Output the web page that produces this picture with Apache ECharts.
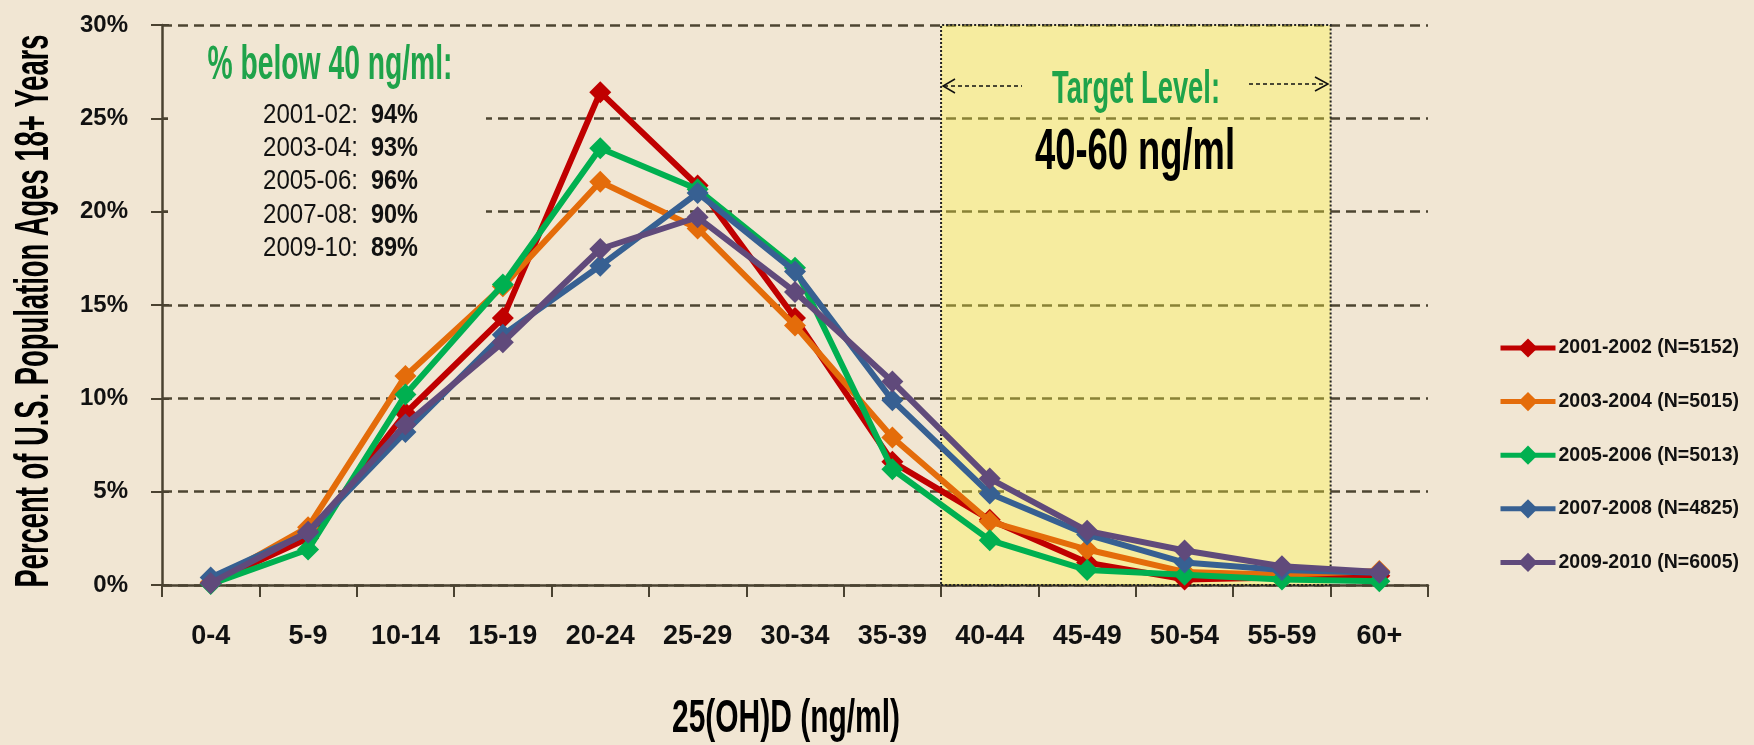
<!DOCTYPE html>
<html>
<head>
<meta charset="utf-8">
<title>25(OH)D distribution</title>
<script src="https://cdn.jsdelivr.net/npm/echarts@6/dist/echarts.min.js"></script>
<style>
  html, body { margin: 0; padding: 0; background: #f1e6d3; }
  #chart { width: 1754px; height: 745px; }
</style>
</head>
<body>
<div id="chart"></div>
<script>
// 横轴分组 (ng/ml)
const categories = ['0-4', '5-9', '10-14', '15-19', '20-24', '25-29', '30-34', '35-39', '40-44', '45-49', '50-54', '55-59', '60+'];

// 各调查周期的百分比
const s2001 = [0.1, 2.5, 9.2, 14.3, 26.4, 21.4, 14.3, 6.6, 3.5, 1.2, 0.3, 0.4, 0.5];
const s2003 = [0.15, 3.1, 11.2, 16.0, 21.6, 19.1, 13.9, 7.9, 3.4, 1.9, 0.7, 0.55, 0.75];
const s2005 = [0.05, 1.9, 10.2, 16.1, 23.4, 21.2, 17.0, 6.2, 2.4, 0.8, 0.55, 0.3, 0.2];
const s2007 = [0.4, 2.8, 8.2, 13.4, 17.1, 21.0, 16.8, 9.9, 4.9, 2.7, 1.2, 0.8, 0.65];
const s2009 = [0.1, 2.85, 8.6, 13.0, 18.0, 19.7, 15.7, 10.9, 5.7, 2.9, 1.85, 1.0, 0.7];

const seriesNames = ['2001-2002 (N=5152)', '2003-2004 (N=5015)', '2005-2006 (N=5013)', '2007-2008 (N=4825)', '2009-2010 (N=6005)'];
const seriesColors = ['#c00000', '#e46c0a', '#00b050', '#376092', '#604a7b'];

// 纵轴刻度
const yMin = 0, yMax = 30, yStep = 5;

// 左上角说明
const periods = ['2001-02:', '2003-04:', '2005-06:', '2007-08:', '2009-10:'];
const belowPct = ['94%', '93%', '96%', '90%', '89%'];

// 目标区间
const targetFrom = '40-44', targetTo = '55-59';

const NARROW = '"Liberation Sans Narrow", "Liberation Sans", sans-serif';
const GREEN = '#1fa34a';
const AXIS = '#4a4230';

// 用canvas量文字宽度, 算横向压缩比例
const ctx2d = document.createElement('canvas').getContext('2d');
function fit(text, font, width) {
  ctx2d.font = font;
  return width / ctx2d.measureText(text).width;
}

function label(text, x, y, size, width, fill, rotation, align, weight) {
  const font = (weight || 'bold') + ' ' + size + 'px ' + NARROW;
  return {
    type: 'text', x: x, y: y, z: 20,
    rotation: rotation || 0,
    scaleX: fit(text, font, width),
    style: { text: text, font: font, fill: fill, align: align || 'center', verticalAlign: 'middle' }
  };
}

const graphics = [
  // 遮住说明文字后面的网格线
  { type: 'rect', z: 1, shape: { x: 168, y: 36, width: 318, height: 228 }, style: { fill: '#f1e6d3' } },
  label('% below 40 ng/ml:', 330, 66, 48, 245, GREEN),
  label('Target Level:', 1136, 90, 46, 168, GREEN),
  label('40-60 ng/ml', 1135, 153, 58, 200, '#000'),
  label('Percent of U.S. Population Ages 18+ Years', 35, 311, 48, 553, '#000', Math.PI / 2),
  label('25(OH)D (ng/ml)', 786, 719, 46, 228, '#000'),
  // 箭头
  { type: 'polyline', z: 20, shape: { points: [[944, 86], [1022, 86]] }, style: { stroke: '#111', lineWidth: 1.5, lineDash: [4, 3] } },
  { type: 'polyline', z: 20, shape: { points: [[955, 79], [943, 86], [955, 93]] }, style: { stroke: '#111', lineWidth: 1.5, fill: null } },
  { type: 'polyline', z: 20, shape: { points: [[1249, 84], [1327, 84]] }, style: { stroke: '#111', lineWidth: 1.5, lineDash: [4, 3] } },
  { type: 'polyline', z: 20, shape: { points: [[1315, 77], [1328, 84], [1315, 91]] }, style: { stroke: '#111', lineWidth: 1.5, fill: null } }
];

periods.forEach(function (p, i) {
  const y = 115 + i * 33.3;
  graphics.push(label(p, 358, y, 28, 95, '#111', 0, 'right', 'normal'));
  graphics.push(label(belowPct[i], 371, y, 28, 47, '#111', 0, 'left', 'bold'));
});

const dataSets = [s2001, s2003, s2005, s2007, s2009];
const lineSeries = dataSets.map(function (d, i) {
  return {
    name: seriesNames[i],
    type: 'line',
    data: d,
    symbol: 'diamond',
    symbolSize: 22,
    color: seriesColors[i],
    lineStyle: { width: 6, color: seriesColors[i] },
    itemStyle: { color: seriesColors[i] },
    z: 2 + i * 0.1
  };
});

// 黄色目标区 (半透明盖在线上面)
lineSeries.push({
  name: 'target',
  type: 'line',
  xAxisIndex: 1,
  data: [],
  z: 10,
  silent: true,
  markArea: {
    silent: true,
    itemStyle: { color: 'rgba(255, 250, 60, 0.34)', borderColor: '#222', borderWidth: 2, borderType: 'dotted' },
    data: [[
      { xAxis: categories.indexOf(targetFrom), yAxis: yMin },
      { xAxis: categories.indexOf(targetTo) + 1, yAxis: yMax }
    ]]
  }
});

const chart = echarts.init(document.getElementById('chart'));
chart.setOption({
  backgroundColor: '#f1e6d3',
  animation: false,
  grid: { left: 162, right: 326, top: 25, bottom: 160 },
  legend: {
    data: seriesNames,
    orient: 'vertical',
    left: 1493,
    top: 333,
    itemWidth: 55,
    itemHeight: 24,
    itemGap: 33.6,
    lineStyle: { width: 5 },
    textStyle: { fontFamily: NARROW, fontWeight: 'bold', fontSize: 19.5, color: '#111', padding: [0, 0, 0, -2] }
  },
  xAxis: [{
    type: 'category',
    data: categories,
    boundaryGap: true,
    axisLine: { lineStyle: { color: AXIS, width: 2.5 } },
    axisTick: { show: true, length: 12, lineStyle: { color: AXIS, width: 2 } },
    axisLabel: { interval: 0, margin: 38, color: '#111', fontFamily: NARROW, fontWeight: 'bold', fontSize: 27 },
    splitLine: { show: false }
  }, {
    type: 'value', min: 0, max: categories.length, show: false
  }],
  yAxis: [{
    type: 'value',
    min: yMin, max: yMax, interval: yStep,
    axisLine: { show: true, lineStyle: { color: AXIS, width: 2.5 } },
    axisTick: { show: true, length: 11, lineStyle: { color: AXIS, width: 2 } },
    axisLabel: { margin: 34, color: '#111', fontFamily: NARROW, fontWeight: 'bold', fontSize: 24, formatter: '{value}%' },
    splitLine: { show: true, lineStyle: { color: '#4d4532', width: 2.5, type: [10, 6] } }
  }, {
    type: 'value',
    position: 'left',
    min: yMin, max: yMax, interval: yStep,
    axisLine: { show: false },
    axisTick: { show: true, inside: true, length: 7, lineStyle: { color: AXIS, width: 2 } },
    axisLabel: { show: false },
    splitLine: { show: false }
  }],
  series: lineSeries,
  graphic: { elements: graphics }
});
</script>
</body>
</html>
